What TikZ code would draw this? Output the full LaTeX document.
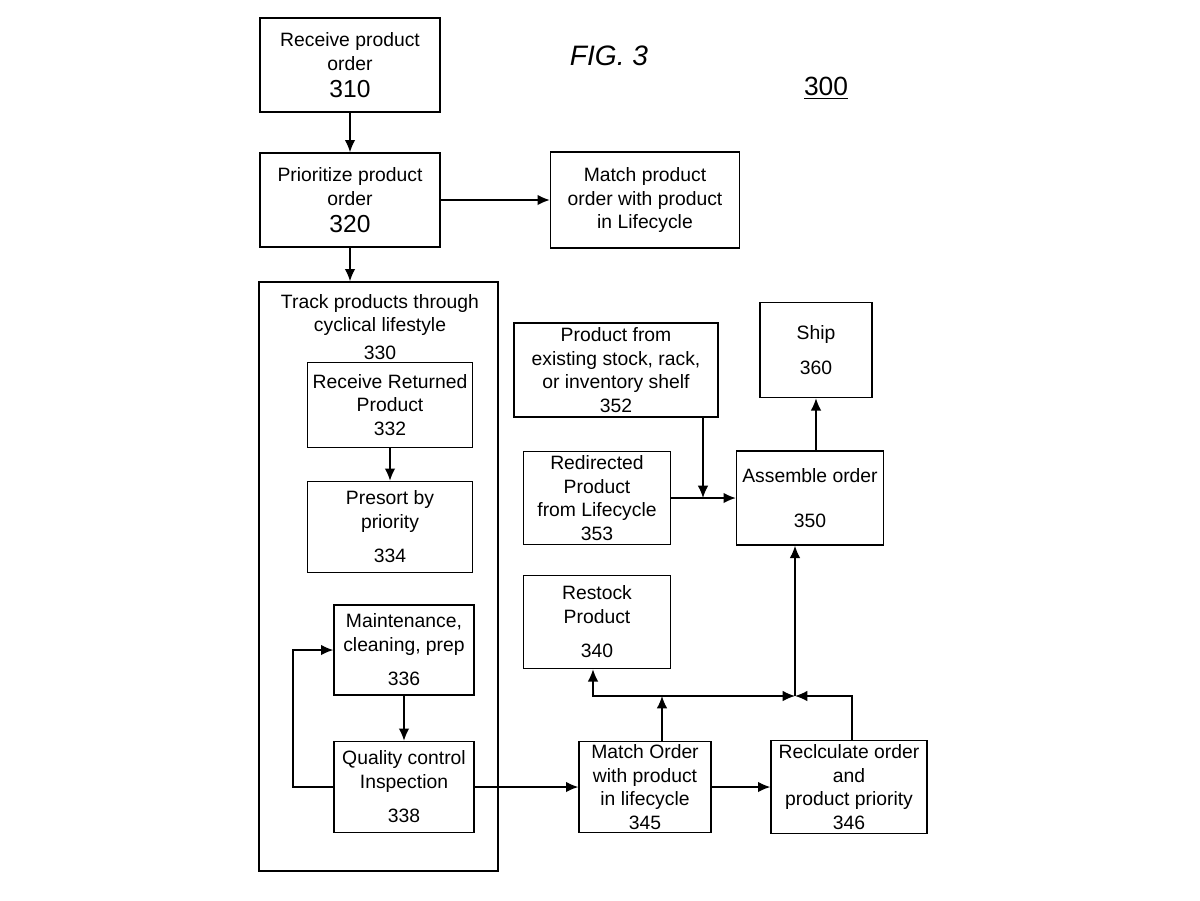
\documentclass[tikz,border=0pt]{standalone}
\usepackage{fontspec}
\setmainfont{Liberation Sans}
\usetikzlibrary{arrows.meta}
\tikzset{
  blk/.style={draw, thick, align=center, inner sep=1pt, font=\fontsize{11}{13.5}\selectfont},
  flow/.style={thick, -{Latex[length=7pt,width=6pt]}}
}
\newcommand{\num}[1]{{\fontsize{14}{16}\selectfont #1}}
\begin{document}
\begin{tikzpicture}[x=0.02cm, y=-0.02cm]
  \useasboundingbox (0,0) rectangle (1200,900);
  % header
  \node[font=\itshape\fontsize{16}{18}\selectfont] (fig) at (609,56) {FIG. 3};
  \node[font=\fontsize{15}{17}\selectfont] (ref) at (826,88) {\underline{300}};
  % top boxes
  \node[blk, minimum width=180*0.02cm, minimum height=94*0.02cm] (n310) at (350,65) {Receive product\\order\\[2pt]\num{310}};
  \node[blk, minimum width=180*0.02cm, minimum height=94*0.02cm] (n320) at (350,200) {Prioritize product\\order\\[2pt]\num{320}};
  \node[blk, minimum width=189*0.02cm, minimum height=96*0.02cm] (match) at (645,200) {Match product\\order with product\\in Lifecycle};
  % lifecycle container
  \node[draw, thick, minimum width=239*0.02cm, minimum height=589*0.02cm] (n330) at (378.5,576.5) {};
  \node[align=center, font=\fontsize{11}{13.5}\selectfont, anchor=north] (t330) at (380,288) {Track products through\\cyclical lifestyle\\[2pt]330};
  \node[blk, minimum width=165*0.02cm, minimum height=85*0.02cm] (n332) at (390,405) {Receive Returned\\Product\\332};
  \node[blk, minimum width=165*0.02cm, minimum height=91*0.02cm] (n334) at (390,527) {Presort by\\priority\\[6pt]334};
  \node[blk, minimum width=140*0.02cm, minimum height=90*0.02cm] (n336) at (404,650) {Maintenance,\\cleaning, prep\\[6pt]336};
  \node[blk, minimum width=140*0.02cm, minimum height=91*0.02cm] (n338) at (404,787) {Quality control\\Inspection\\[6pt]338};
  % right side
  \node[blk, minimum width=132*0.02cm, minimum height=91*0.02cm] (n345) at (645,787) {Match Order\\with product\\in lifecycle\\345};
  \node[blk, minimum width=156*0.02cm, minimum height=93*0.02cm] (n346) at (849,787) {Reclculate order\\and\\product priority\\346};
  \node[blk, minimum width=147*0.02cm, minimum height=93*0.02cm] (n340) at (597,622) {Restock\\Product\\[6pt]340};
  \node[blk, minimum width=147*0.02cm, minimum height=93*0.02cm] (n353) at (597,498) {Redirected\\Product\\from Lifecycle\\353};
  \node[blk, minimum width=204*0.02cm, minimum height=94*0.02cm] (n352) at (616,370) {Product from\\existing stock, rack,\\or inventory shelf\\352};
  \node[blk, minimum width=147*0.02cm, minimum height=94*0.02cm] (n350) at (810,498) {Assemble order\\[12pt]350};
  \node[blk, minimum width=112*0.02cm, minimum height=95*0.02cm] (n360) at (816,350) {Ship\\[6pt]360};
  % junction points
  \coordinate (jc) at (795,696);
  \coordinate (jl) at (593,696);
  \coordinate (jr) at (852,696);
  \coordinate (j345) at (662,696);
  \coordinate (jfb) at (293,787);
  \coordinate (j352) at (703,498);
  % connectors
  \draw[flow] (n310) -- (n320);
  \draw[flow] (n320) -- (match);
  \draw[flow] (n320) -- (n330.north -| n320);
  \draw[flow] (n332) -- (n334);
  \draw[flow] (n336) -- (n338);
  \draw[flow] (n338.west) -- (jfb) |- (n336.west);
  \draw[flow] (n338) -- (n345);
  \draw[flow] (n345) -- (n346);
  \draw[flow] (n345.north -| j345) -- (j345);
  \draw[flow] (j345) -- (jl) -- (n340.south -| jl);
  \draw[flow] (j345) -- (jc);
  \draw[flow] (n346.north -| jr) -- (jr) -- (jc);
  \draw[flow] (jc) -- (n350.south -| jc);
  \draw[flow] (n352.south -| j352) -- (j352);
  \draw[flow] (n353) -- (n350);
  \draw[flow] (n350.north -| n360.south) -- (n360.south);
\end{tikzpicture}
\end{document}
